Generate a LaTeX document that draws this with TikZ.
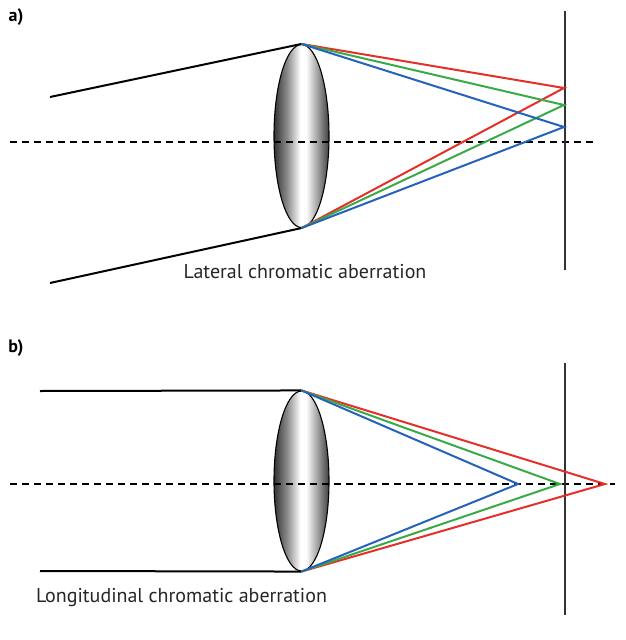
\documentclass[tikz,border=0pt]{standalone}
\usepackage{fontspec}
\setmainfont{PT Sans}
\usetikzlibrary{shapes.geometric}
\definecolor{rayred}{RGB}{228,48,40}
\definecolor{raygreen}{RGB}{58,170,72}
\definecolor{rayblue}{RGB}{38,98,186}
\pgfdeclarehorizontalshading{lensshade}{100bp}{color(0bp)=(black!80); color(25bp)=(black!80); color(37bp)=(black!45); color(49bp)=(white); color(54bp)=(white); color(64bp)=(black!35); color(75bp)=(black!75); color(100bp)=(black!75)}

\begin{document}
\begin{tikzpicture}[x=1pt,y=-1pt,
  ray/.style={line width=2pt},
  axis/.style={line width=2pt,dash pattern=on 7pt off 5pt},
  screen/.style={line width=2pt,black!80},
  lens/.style={ellipse,draw,line width=1.1pt,shade,shading=lensshade,minimum width=55pt,inner sep=0pt},
  caption/.style={font=\fontsize{20}{24}\selectfont,text=black!85},
  panel/.style={font=\bfseries\fontsize{18}{22}\selectfont}]
  \useasboundingbox (0,0) rectangle (625,640);

  \node[panel] (labA) at (16,17) {a)};
  \node[lens,minimum height=183pt] (lensA) at (301.5,136) {};

  \coordinate (axA0) at (10,142);
  \coordinate (axA1) at (597,142);
  \draw[axis] (axA0) -- (axA1);

  \coordinate (scrA0) at (565,11);
  \coordinate (scrA1) at (565,270);
  \draw[screen] (scrA0) -- (scrA1);

  \coordinate (inA1) at (50,97);
  \coordinate (inA2) at (50,283);
  \draw[ray] (inA1) -- (lensA.north);
  \draw[ray] (inA2) -- (lensA.south);

  \coordinate (fRA) at (564,88);
  \coordinate (fGA) at (564,105);
  \coordinate (fBA) at (564,127);
  \foreach \c/\f in {rayred/fRA,raygreen/fGA,rayblue/fBA}
    \draw[ray,\c] (lensA.north) -- (\f) -- (lensA.south);

  \node[caption] (capA) at (305,272) {Lateral chromatic aberration};

  \node[panel] (labB) at (16,348) {b)};
  \node[lens,minimum height=180pt] (lensB) at (301.5,481) {};

  \coordinate (axB0) at (10,484);
  \coordinate (axB1) at (615,484);
  \draw[axis] (axB0) -- (axB1);

  \coordinate (scrB0) at (565,363);
  \coordinate (scrB1) at (565,615);
  \draw[screen] (scrB0) -- (scrB1);

  \coordinate (inB1) at (40,391);
  \coordinate (inB2) at (40,571);
  \draw[ray] (inB1) -- (lensB.north);
  \draw[ray] (inB2) -- (lensB.south);

  \coordinate (fRB) at (605,484);
  \coordinate (fGB) at (560,484);
  \coordinate (fBB) at (518,484);
  \foreach \c/\f in {rayred/fRB,raygreen/fGB,rayblue/fBB}
    \draw[ray,\c] (lensB.north) -- (\f) -- (lensB.south);

  \node[caption] (capB) at (181.5,598) {Longitudinal chromatic aberration};
\end{tikzpicture}
\end{document}
